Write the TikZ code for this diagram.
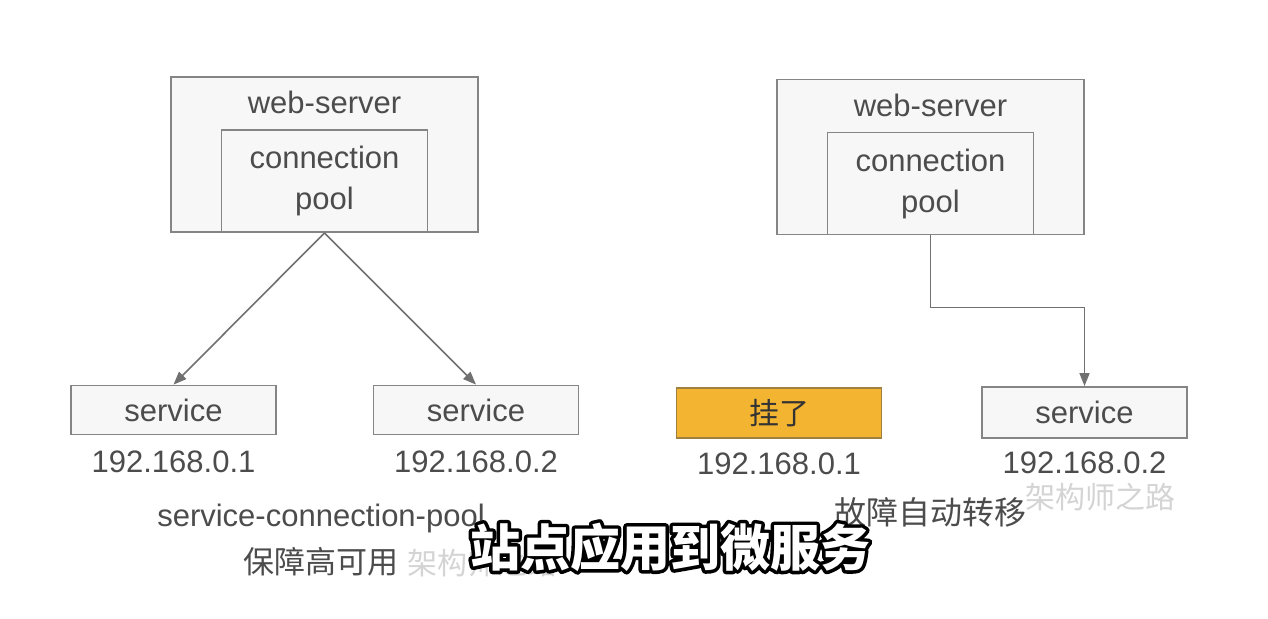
\documentclass[tikz,border=0pt]{standalone}
\usepackage{fontspec}
\setmainfont{Liberation Sans}
\newfontfamily\cjk{Noto Sans CJK SC}
\usetikzlibrary{positioning,calc,arrows.meta}

\definecolor{txtgray}{HTML}{4C4C4C}
\definecolor{boxgray}{HTML}{858585}
\definecolor{boxfill}{HTML}{F7F7F7}
\definecolor{linkgray}{HTML}{707070}
\definecolor{downorange}{HTML}{F2B431}
\definecolor{downedge}{HTML}{A08040}
\definecolor{markgray}{HTML}{D4D4D4}

% kontur yazı (önce siyah çizgi, sonra beyaz dolgu)
\newcommand{\outlinetext}[1]{%
  \rlap{\special{pdf:literal direct 1 Tr 7 w 1 j 0 0 0 RG}#1\special{pdf:literal direct 0 Tr}}%
  \textcolor{white}{#1}}

\tikzset{
  serverbox/.style={draw=boxgray, line width=1.8pt, fill=boxfill, inner sep=0pt,
    minimum width=307pt, minimum height=155pt},
  poolbox/.style={draw=boxgray, line width=1.8pt, fill=boxfill, inner sep=0pt,
    minimum width=206pt, minimum height=102pt, anchor=south,
    text=txtgray, align=center, font=\fontsize{31}{41}\selectfont},
  svcbox/.style={draw=boxgray, line width=1.8pt, fill=boxfill, inner sep=0pt,
    minimum width=205pt, minimum height=49pt,
    text=txtgray, font=\fontsize{31}{37}\selectfont},
  label/.style={text=txtgray, inner sep=0pt, font=\fontsize{31}{37}\selectfont},
  iplabel/.style={label, anchor=north},
  caption/.style={text=txtgray, inner sep=0pt, align=center, font=\fontsize{31}{42}\selectfont},
  watermark/.style={text=markgray, inner sep=0pt, font=\cjk\fontsize{30}{32}\selectfont},
  subtitle/.style={inner sep=0pt, font=\cjk\bfseries\fontsize{50}{56}\selectfont},
  link/.style={draw=linkgray, line width=1.6pt, -{Triangle[length=13pt,width=10pt]}},
}

\begin{document}
\begin{tikzpicture}[x=1pt, y=-1pt]
  % Arka plan ve sınırlar
  \fill[white] (0,0) rectangle (1268,618);
  \useasboundingbox (0,0) rectangle (1268,618);

  % Sol taraf: web-server ve connection pool
  \node[serverbox] (ws1) at (324.5,154.5) {};
  \node[poolbox] (cp1) at (ws1.south) {connection\\pool};
  \node[label] (ws1t) at ($(ws1.north)!0.5!(cp1.north)$) {web-server};

  % Sol taraf: service kutuları
  \node[svcbox] (s11) at (173.5,410) {service};
  \node[svcbox] (s12) at (476,410) {service};
  \node[iplabel, below=15pt of s11] (ip11) {192.168.0.1};
  \node[iplabel, below=15pt of s12] (ip12) {192.168.0.2};

  % Sol taraf: bağlantılar
  \draw[link] (cp1.south) -- (s11.north);
  \draw[link] (cp1.south) -- (s12.north);

  % Sağ taraf: web-server ve connection pool
  \node[serverbox] (ws2) at (930.5,157) {};
  \node[poolbox] (cp2) at (ws2.south) {connection\\pool};
  \node[label] (ws2t) at ($(ws2.north)!0.5!(cp2.north)$) {web-server};

  % Sağ taraf: düşen düğüm ve service
  \node[svcbox, fill=downorange, draw=downedge, minimum height=50pt,
        text=black!80, font=\cjk\fontsize{30}{36}\selectfont] (s21) at (779,413) {挂了};
  \node[svcbox, minimum height=51pt] (s22) at (1084.5,412.5) {service};
  \node[iplabel, below=14pt of s21] (ip21) {192.168.0.1};
  \node[iplabel, below=13pt of s22] (ip22) {192.168.0.2};

  % Sağ taraf: yedeğe geçiş
  \draw[link] (cp2.south) -- ++(0,72) -| (s22.north);

  % Filigranlar
  \node[watermark] (wm1) at (1100,497) {架构师之路};
  \node[watermark] (wm2) at (482,563) {架构师之路};

  % Alt yazılar
  \node[caption] (cap1) at (321,518) {service-connection-pool};
  \node[caption, font=\cjk\fontsize{31}{36}\selectfont] (cap2) at (321,562) {保障高可用};
  \node[caption, font=\cjk\fontsize{32}{36}\selectfont] (cap3) at (930,512) {故障自动转移};

  % Video altyazısı
  \node[subtitle] (sub) at (670,547) {\outlinetext{站点应用到微服务}};
\end{tikzpicture}
\end{document}
